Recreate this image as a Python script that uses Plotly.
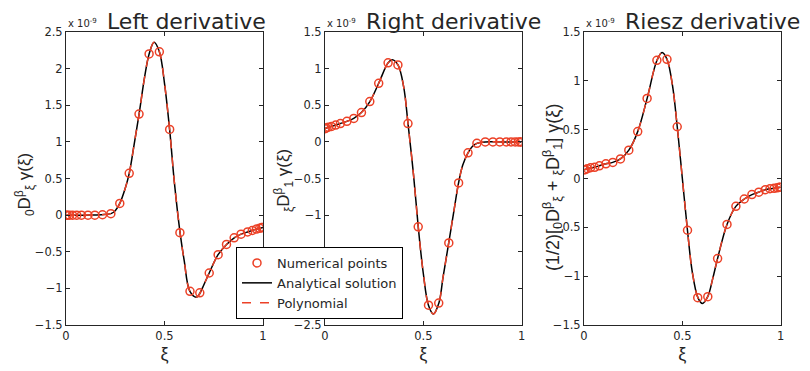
import plotly.graph_objects as go

# ---------------- data (values in units of 1e-9) ----------------
xi_points = [0.0007, 0.0062, 0.0170, 0.0332, 0.0545, 0.0783, 0.1114, 0.1464, 0.1853, 0.2277,
             0.2730, 0.3208, 0.3706, 0.4218, 0.4738, 0.5262, 0.5782, 0.6294, 0.6792, 0.7270,
             0.7723, 0.8147, 0.8536, 0.8886, 0.9217, 0.9455, 0.9668, 0.9830, 0.9938, 0.9993]

left_points = [0, 0, 0, 0, 0, 0, 0, 0, 0.005, 0.02,
               0.16, 0.57, 1.38, 2.20, 2.23, 1.17, -0.24, -1.04, -1.06, -0.79,
               -0.54, -0.40, -0.31, -0.26, -0.23, -0.21, -0.19, -0.18, -0.17, -0.17]
right_points = [0.18, 0.19, 0.20, 0.21, 0.23, 0.25, 0.28, 0.32, 0.40, 0.55,
                0.80, 1.08, 1.05, 0.25, -1.16, -2.23, -2.20, -1.38, -0.56, -0.15,
                -0.02, 0, 0, 0, 0, 0, 0, 0, 0, 0]
riesz_points = [0.09, 0.09, 0.10, 0.11, 0.115, 0.13, 0.15, 0.165, 0.20, 0.29,
                0.48, 0.82, 1.21, 1.22, 0.53, -0.53, -1.22, -1.21, -0.82, -0.47,
                -0.285, -0.21, -0.165, -0.14, -0.115, -0.105, -0.10, -0.095, -0.09, -0.09]

left_curve_x = [0, 0.1, 0.18, 0.228, 0.25, 0.273, 0.30, 0.321, 0.345, 0.371, 0.40, 0.422, 0.447,
                0.474, 0.50, 0.526, 0.55, 0.579, 0.60, 0.629, 0.663, 0.679, 0.70, 0.727, 0.772,
                0.815, 0.854, 0.889, 0.921, 0.945, 0.967, 0.983, 1.0]
left_curve_y = [0, 0, 0.005, 0.02, 0.06, 0.16, 0.36, 0.57, 0.95, 1.38, 1.90, 2.20, 2.36,
                2.23, 1.80, 1.17, 0.45, -0.24, -0.62, -1.04, -1.12, -1.07, -0.95, -0.79, -0.54,
                -0.40, -0.31, -0.26, -0.23, -0.21, -0.19, -0.18, -0.17]

right_curve_x = [0, 0.017, 0.054, 0.111, 0.146, 0.185, 0.228, 0.273, 0.321, 0.342, 0.371, 0.40,
                 0.422, 0.45, 0.474, 0.50, 0.526, 0.551, 0.579, 0.60, 0.629, 0.655, 0.679, 0.70,
                 0.727, 0.75, 0.772, 0.815, 0.9, 1.0]
right_curve_y = [0.18, 0.20, 0.23, 0.28, 0.32, 0.40, 0.55, 0.80, 1.08, 1.12, 1.05, 0.75,
                 0.25, -0.45, -1.16, -1.80, -2.23, -2.35, -2.20, -1.85, -1.38, -0.95, -0.56, -0.32,
                 -0.15, -0.06, -0.02, 0.0, 0.0, 0.0]

riesz_curve_x = [0, 0.017, 0.054, 0.078, 0.111, 0.146, 0.185, 0.228, 0.273, 0.321, 0.371, 0.397,
                 0.422, 0.45, 0.474, 0.50, 0.526, 0.55, 0.579, 0.602, 0.629, 0.655, 0.679, 0.727,
                 0.772, 0.815, 0.854, 0.889, 0.921, 0.945, 0.967, 0.983, 1.0]
riesz_curve_y = [0.09, 0.10, 0.115, 0.13, 0.15, 0.165, 0.20, 0.29, 0.48, 0.82, 1.21, 1.29,
                 1.22, 0.95, 0.53, 0.0, -0.53, -0.95, -1.22, -1.28, -1.21, -1.02, -0.82, -0.47,
                 -0.285, -0.21, -0.165, -0.14, -0.115, -0.105, -0.10, -0.095, -0.09]

titles = ["Left derivative", "Right derivative", "Riesz derivative"]
ylabels = ["<sub>0</sub>D<sup>β</sup><sub>ξ</sub> γ(ξ)",
           "<sub>ξ</sub>D<sup>β</sup><sub>1</sub> γ(ξ)",
           "(1/2)[<sub>0</sub>D<sup>β</sup><sub>ξ</sub> + <sub>ξ</sub>D<sup>β</sup><sub>1</sub>] γ(ξ)"]
yranges = [[-1.5, 2.5], [-2.5, 1.5], [-1.5, 1.5]]
x_ticks = [0, 0.5, 1]
x_ticklabels = ["0", "0.5", "1"]

# ---------------- styling ----------------
W, H = 810, 371
RED = "#ec4127"
AX = "#262626"
FONT = "DejaVu Sans, Liberation Sans, Arial, sans-serif"
LFONT = "Liberation Sans, Arial, sans-serif"
x_doms = [(66, 263), (325, 521.7), (584, 780.7)]
y_top, y_bot = 32, 325

fig = go.Figure()
panels = [(left_curve_x, left_curve_y, left_points),
          (right_curve_x, right_curve_y, right_points),
          (riesz_curve_x, riesz_curve_y, riesz_points)]

for i, (cx, cy, py) in enumerate(panels):
    xa = "x" if i == 0 else f"x{i+1}"
    ya = "y" if i == 0 else f"y{i+1}"
    first = i == 0
    fig.add_trace(go.Scatter(x=cx, y=cy, mode="lines", xaxis=xa, yaxis=ya,
                             line=dict(color="black", width=1.5, shape="spline"),
                             name="Analytical solution", showlegend=first, legendrank=2))
    fig.add_trace(go.Scatter(x=cx, y=cy, mode="lines", xaxis=xa, yaxis=ya,
                             line=dict(color=RED, width=1.5, dash="dash", shape="spline"),
                             name="Polynomial", showlegend=first, legendrank=3))
    fig.add_trace(go.Scatter(x=xi_points, y=py, mode="markers", xaxis=xa, yaxis=ya,
                             marker=dict(symbol="circle-open", size=8, color=RED,
                                         line=dict(width=1.5, color=RED)),
                             name="Numerical points", showlegend=first, legendrank=1))

layout = dict(
    width=W, height=H, margin=dict(l=0, r=0, t=0, b=0, autoexpand=False),
    paper_bgcolor="white", plot_bgcolor="white",
    font=dict(family=FONT, size=12, color=AX),
    legend=dict(x=236 / W, y=1 - 247 / H, xanchor="left", yanchor="top",
                bordercolor="black", borderwidth=1, bgcolor="white",
                font=dict(size=13, color=AX), tracegroupgap=0, itemwidth=30),
)
annotations = []
for i in range(3):
    sx = "" if i == 0 else str(i + 1)
    x0, x1 = x_doms[i]
    layout["xaxis" + sx] = dict(
        domain=[x0 / W, x1 / W], anchor="y" + sx, range=[0, 1], automargin=False,
        tickvals=x_ticks, ticktext=x_ticklabels, ticks="inside", ticklen=4,
        showline=True, mirror="ticks", linecolor=AX, linewidth=1, tickcolor=AX,
        showgrid=False, zeroline=False, tickfont=dict(size=11.5, color=AX),
        title=dict(text="ξ", font=dict(family=LFONT, size=18, color=AX), standoff=5),
    )
    lo, hi = yranges[i]
    vals = [lo + 0.5 * k for k in range(int(round((hi - lo) / 0.5)) + 1)]
    layout["yaxis" + sx] = dict(
        domain=[1 - y_bot / H, 1 - y_top / H], anchor="x" + sx, range=[lo, hi], automargin=False,
        tickvals=vals, ticks="inside", ticklen=4,
        showline=True, mirror="ticks", linecolor=AX, linewidth=1, tickcolor=AX,
        showgrid=False, zeroline=False, tickfont=dict(size=11.5, color=AX),
    )
    # title
    annotations.append(dict(text=titles[i], xref="paper", yref="paper",
                            x=(x0 + 39) / W, y=1 - 36 / H, xanchor="left", yanchor="bottom",
                            showarrow=False, font=dict(size=22, color=AX)))
    # exponent label
    annotations.append(dict(text="x 10<sup>-9</sup>", xref="paper", yref="paper",
                            x=x0 / W, y=1 - 31 / H, xanchor="left", yanchor="bottom",
                            showarrow=False, font=dict(size=10, color=AX)))
ylab_x = [25, 284, 553]
ylab_y = [185, 181, 188]
ylab_size = [17, 17, 18]
for i in range(3):
    annotations.append(dict(text=ylabels[i], xref="paper", yref="paper",
                            x=ylab_x[i] / W, y=1 - ylab_y[i] / H, xanchor="center", yanchor="middle",
                            textangle=-90, showarrow=False,
                            font=dict(family=LFONT, size=ylab_size[i], color=AX)))
layout["annotations"] = annotations
fig.update_layout(**layout)
fig.write_html("out.html", config={"displayModeBar": False},
               post_script="document.body.style.margin='0';")
